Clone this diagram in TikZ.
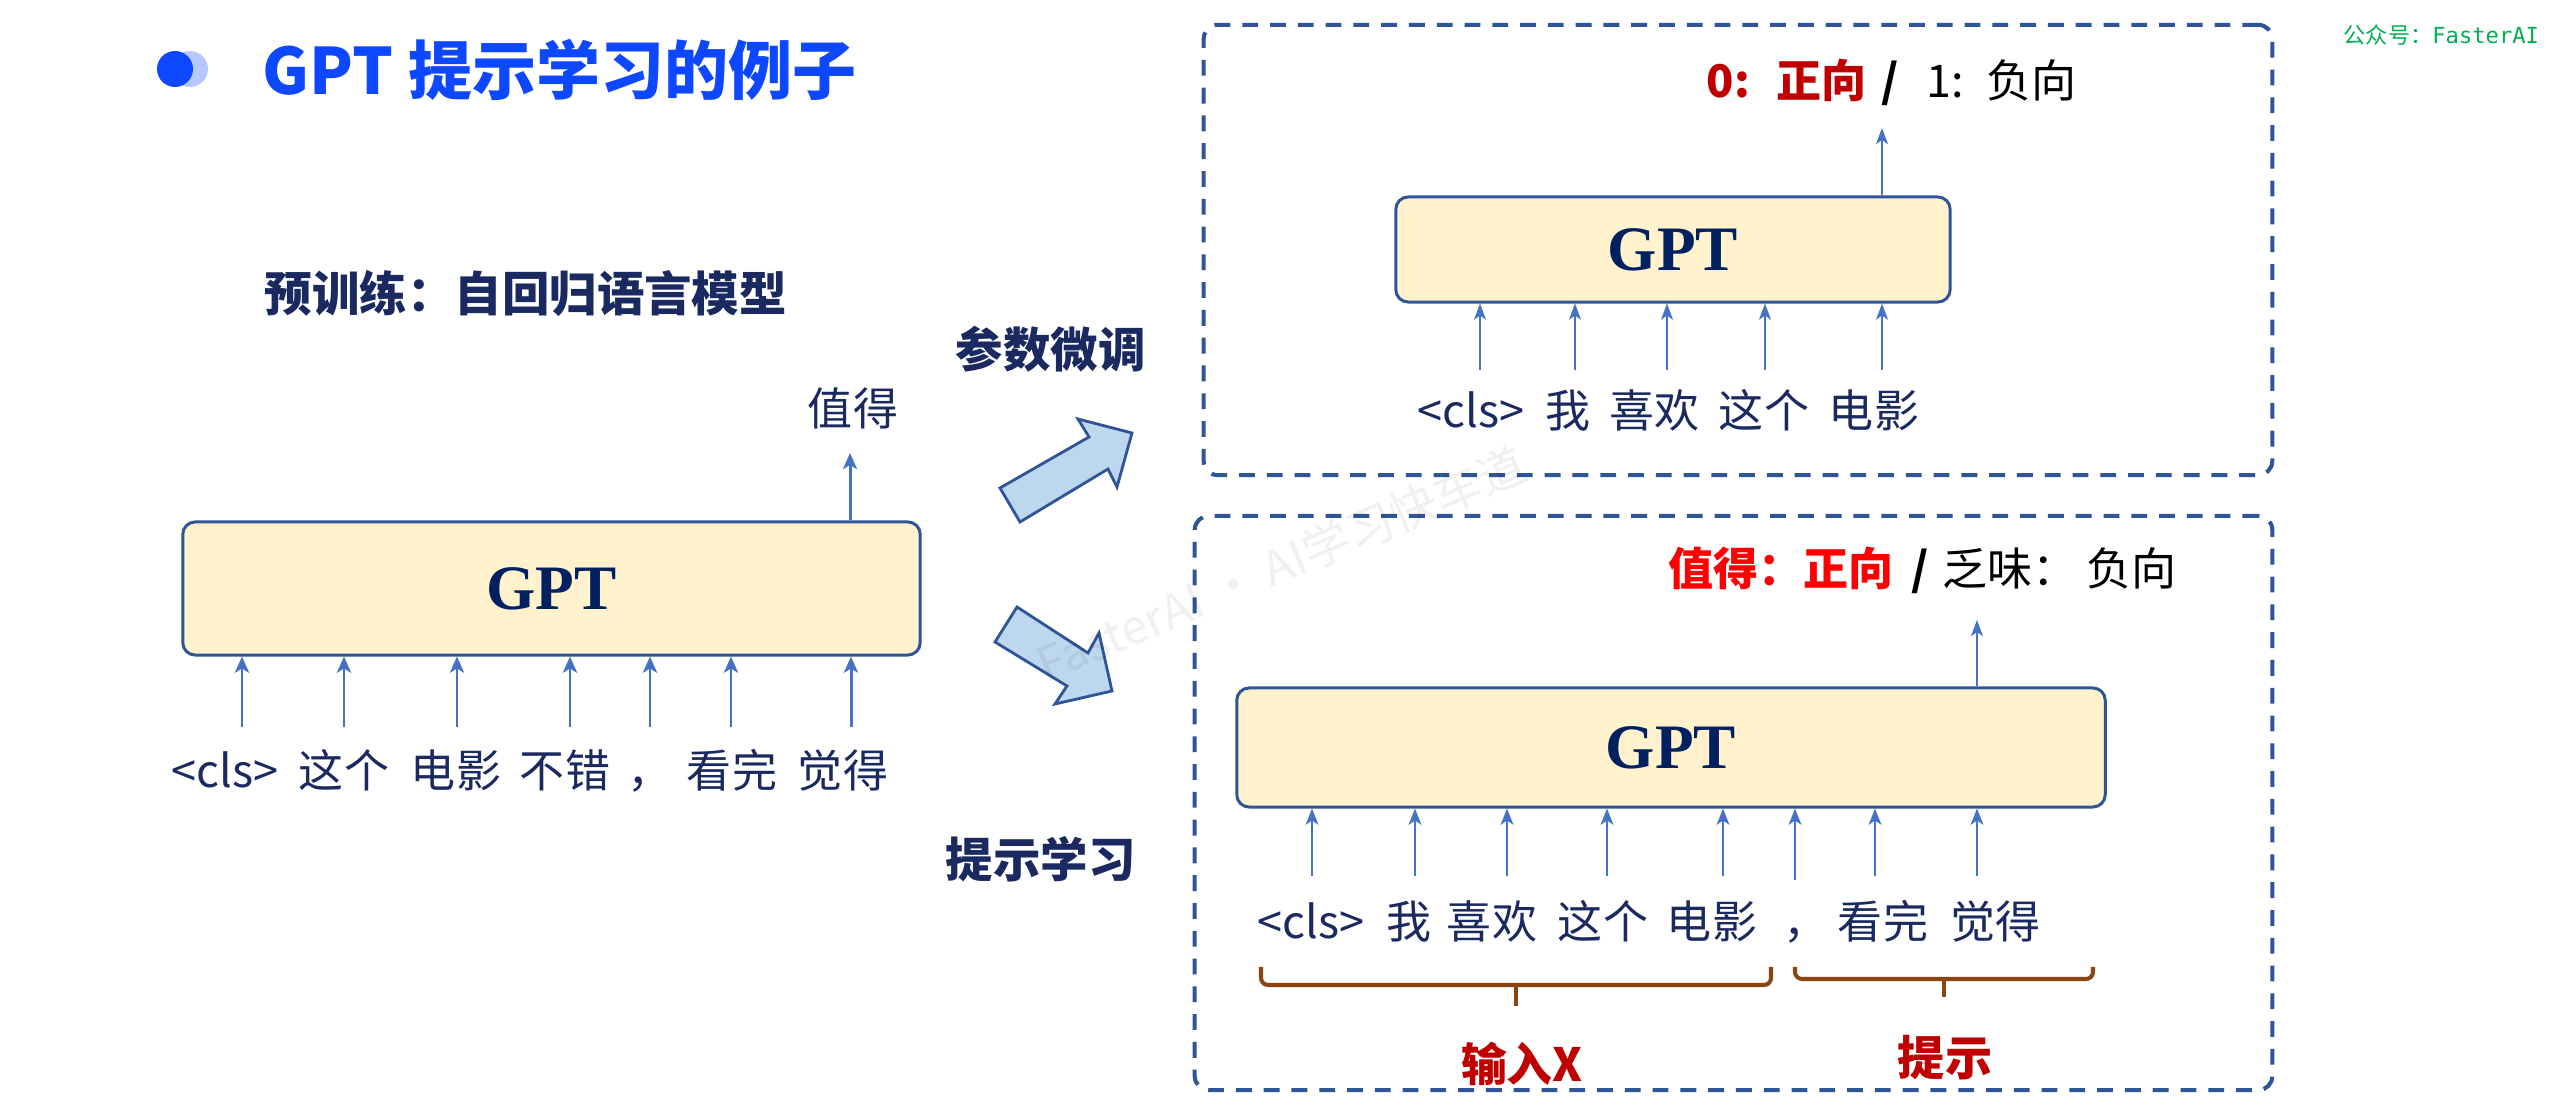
\documentclass[tikz,border=0pt]{standalone}
\usepackage{fontspec}
\setmainfont{Noto Sans CJK SC}
\newfontfamily\gptfont{Liberation Serif}
\newfontfamily\wmmono{DejaVu Sans Mono}
\usetikzlibrary{arrows.meta,calc}
\definecolor{navy}{HTML}{1A2A60}
\definecolor{gptnavy}{HTML}{002060}
\definecolor{boxblue}{HTML}{2F5597}
\definecolor{boxfill}{HTML}{FFF2CC}
\definecolor{arrblue}{HTML}{4472C4}
\definecolor{titleblue}{HTML}{0D47FF}
\definecolor{bulletlight}{HTML}{B6C8FF}
\definecolor{darkred}{HTML}{C00000}
\definecolor{brightred}{HTML}{FF0000}
\definecolor{bracebrown}{HTML}{8B4513}
\definecolor{blockfill}{HTML}{BDD7EE}
\definecolor{wxgreen}{HTML}{00B050}
\newcommand\tokfont{\fontsize{12.8pt}{15pt}\selectfont}
\begin{document}
\begin{tikzpicture}[x=0.01cm,y=-0.01cm,
  tok/.style={anchor=base, inner sep=0pt, text=navy, font=\tokfont},
  boldlab/.style={anchor=base west, inner sep=0pt, text=navy, font=\bfseries\fontsize{13.5pt}{15pt}\selectfont},
  gptbox/.style={draw=boxblue, fill=boxfill, line width=0.85pt, rounded corners=3.5pt, inner sep=0pt,
    font=\gptfont\bfseries\fontsize{18pt}{20pt}\selectfont, text=gptnavy},
  dashbox/.style={draw=boxblue, line width=1.15pt, dash pattern=on 4.5pt off 3.4pt, rounded corners=4pt, inner sep=0pt},
  arrL/.style={draw=arrblue, line width=0.85pt, -{Stealth[length=4.6pt,width=4pt,inset=1.2pt]}},
  arrU/.style={draw=arrblue, line width=0.4pt, -{Stealth[length=4.6pt,width=3.4pt,inset=1.2pt]}},
  arrD/.style={draw=arrblue, line width=0.7pt, -{Stealth[length=4.6pt,width=3.6pt,inset=1.2pt]}},
  blockarrow/.style={draw=boxblue, fill=blockfill, line width=0.8pt, line join=miter},
  bracestyle/.style={draw=bracebrown, line width=1.15pt, rounded corners=2pt}
]
\useasboundingbox[fill=white] (0,0) rectangle (2556,1116);

% title
\fill[bulletlight] (190,69) circle[radius=18];
\fill[titleblue] (175,69) circle[radius=18];
\node[anchor=base west, inner sep=0pt, text=titleblue, font=\bfseries\fontsize{18.2pt}{20pt}\selectfont] (title) at (262,95) {GPT 提示学习的例子};
\node[anchor=base west, inner sep=0pt, text=wxgreen, font=\fontsize{6.3pt}{7pt}\selectfont] (wx) at (2343,44) {公众号：{\wmmono FasterAI}};

% left part
\node[boldlab] (pre) at (264,312) {预训练：自回归语言模型};
\node[gptbox, minimum width=7.37cm, minimum height=1.33cm] (g1) at (551.5,588.5) {GPT};
\node[tok] (l1) at (225,788) {<cls>};
\node[tok] (l2) at (344,788) {这个};
\node[tok] (l3) at (456,788) {电影};
\node[tok] (l4) at (565,788) {不错};
\node[tok] (l5) at (650,788) {，};
\node[tok] (l6) at (732,788) {看完};
\node[tok] (l7) at (843,788) {觉得};
\node[tok] (lout) at (853,426) {值得};
\foreach \i/\x in {1/242,2/344,3/457,4/570,5/650,6/731,7/851}{
  \coordinate (lp\i) at (\x,727);
  \draw[arrL] (lp\i) -- (lp\i |- g1.south);
}
\coordinate (lo) at (850,453);
\draw[arrL] (lo |- g1.north) -- (lo);

% block arrows
\draw[blockarrow] (1000,488) -- (1089,437) -- (1078,419) -- (1132,433) -- (1117,487) -- (1108,469) -- (1020,522) -- cycle;
\draw[blockarrow] (1017,607) -- (1088,653) -- (1099,633) -- (1112,691) -- (1055,704) -- (1067,686) -- (995,642) -- cycle;
\node[boldlab] (ft) at (955,368) {参数微调};
\node[boldlab] (pl) at (945,878) {提示学习};

% upper box
\node[dashbox, minimum width=10.68cm, minimum height=4.5cm] (ub) at (1738,250) {};
\node[gptbox, minimum width=5.54cm, minimum height=1.05cm] (g2) at (1673,249.5) {GPT};
\node[tok] (u1) at (1471,428) {<cls>};
\node[tok] (u2) at (1568,428) {我};
\node[tok] (u3) at (1654,428) {喜欢};
\node[tok] (u4) at (1764,428) {这个};
\node[tok] (u5) at (1874,428) {电影};
\foreach \i/\x in {1/1480,2/1575,3/1667,4/1765,5/1882}{
  \coordinate (up\i) at (\x,370);
  \draw[arrU] (up\i) -- (up\i |- g2.south);
}
\coordinate (uo) at (1882,128);
\draw[arrU] (uo |- g2.north) -- (uo);
\node[anchor=base west, inner sep=0pt, font=\tokfont] (ulab) at (1706,98)
  {\textcolor{darkred}{\bfseries 0:\hspace{0.6em}正向}\hspace{0.33em}\textbf{/}\hspace{0.6em}1:\hspace{0.5em}负向};

% lower box
\node[dashbox, minimum width=10.77cm, minimum height=5.74cm] (lb) at (1733.5,803) {};
\node[gptbox, minimum width=8.68cm, minimum height=1.19cm] (g3) at (1671,747.5) {GPT};
\node[tok] (d1) at (1311,939) {<cls>};
\node[tok] (d2) at (1409,939) {我};
\node[tok] (d3) at (1492,939) {喜欢};
\node[tok] (d4) at (1603,939) {这个};
\node[tok] (d5) at (1712,939) {电影};
\node[tok] (d6) at (1806,939) {，};
\node[tok] (d7) at (1883,939) {看完};
\node[tok] (d8) at (1995,939) {觉得};
\foreach \i/\x/\y in {1/1312/876,2/1415/876,3/1507/876,4/1607/876,5/1723/876,6/1795/880,7/1875/876,8/1977/876}{
  \coordinate (dp\i) at (\x,\y);
  \draw[arrD] (dp\i) -- (dp\i |- g3.south);
}
\coordinate (do) at (1977,620);
\draw[arrU] (do |- g3.north) -- (do);
\node[anchor=base west, inner sep=0pt, font=\tokfont] (dlab) at (1668,586)
  {\textcolor{brightred}{\bfseries 值得：正向}\hspace{0.4em}\textbf{/}\hspace{0.3em}乏味：\hspace{0.2em}负向};

% braces
\draw[bracestyle] (1261,967) -- (1261,985) -- (1771,985) -- (1771,967);
\draw[bracestyle] (1516,985) -- (1516,1006);
\draw[bracestyle] (1795,967) -- (1795,979) -- (2093,979) -- (2093,967);
\draw[bracestyle] (1944,979) -- (1944,997);
\node[anchor=base, inner sep=0pt, text=darkred, font=\bfseries\fontsize{13pt}{15pt}\selectfont] (inx) at (1522,1082) {输入X};
\node[anchor=base, inner sep=0pt, text=darkred, font=\bfseries\fontsize{13.4pt}{15pt}\selectfont] (tip) at (1945,1076) {提示};

% watermark
\node[rotate=23, text=black, opacity=0.06, inner sep=0pt, font=\fontsize{13.5pt}{15pt}\selectfont] (wm) at (1281,564) {FasterAI · AI学习快车道};
\end{tikzpicture}
\end{document}
